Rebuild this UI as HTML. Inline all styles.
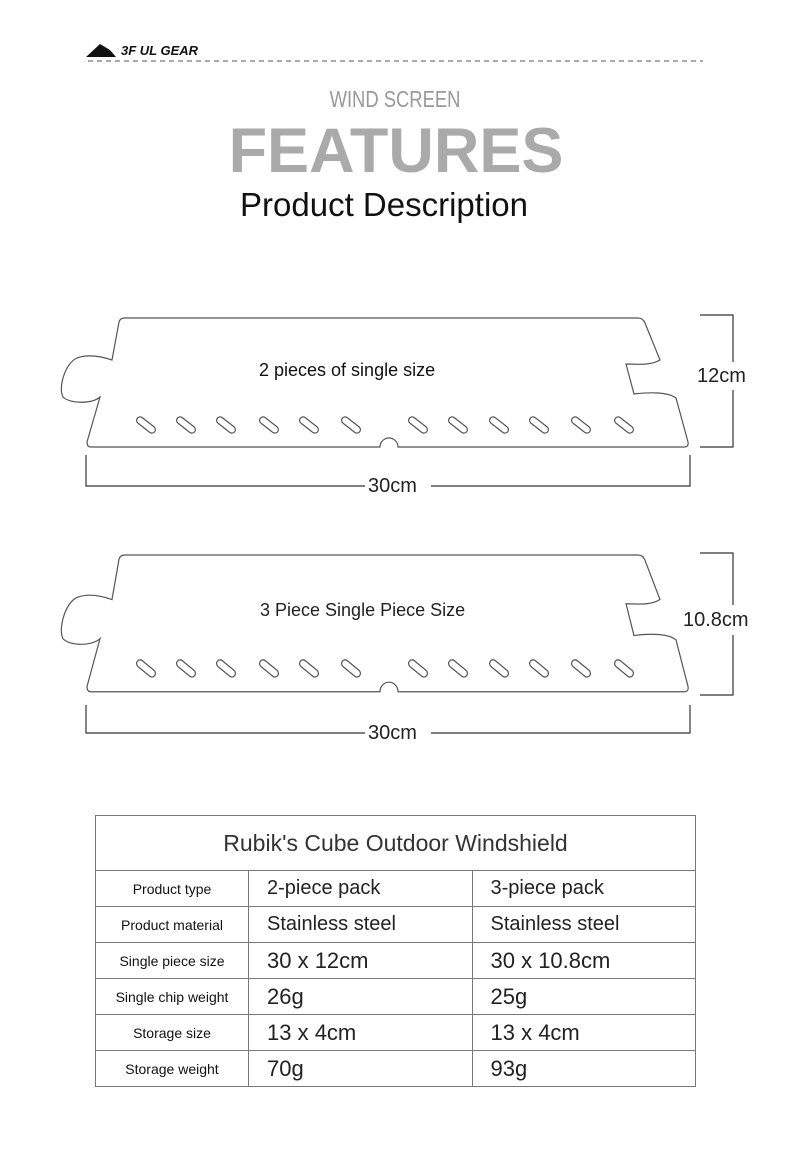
<!DOCTYPE html>
<html><head><meta charset="utf-8"><style>
body{margin:0;width:790px;height:1152px;background:#fff;position:relative;overflow:hidden;font-family:"Liberation Sans",sans-serif;}
.a{position:absolute;white-space:nowrap}
table{position:absolute;left:95px;top:815px;width:601px;border-collapse:collapse;}
td{border:1.5px solid #777;padding:0;height:35px;font-size:22px;color:#222}
td.l{font-size:14px;text-align:center;width:152px;color:#111}
td.v{padding-left:18px}
</style></head><body>
<svg class="a" style="left:0;top:0" width="790" height="1152">
<polygon points="86,57 100,44 110,50 116,57" fill="#111"/>
<line x1="88" y1="61" x2="703" y2="61" stroke="#777" stroke-width="1.2" stroke-dasharray="5,4"/>
<defs>
<g id="p">
<path d="M125,0 L638,0 Q643,0 645,5 L660,42 C650,48 636,46 626,46 L634,76 C650,74 668,74 676,80 L688,124 Q689,129 684,129 L398,129 A9,9 0 0 0 380,129 L91,129 Q87,129 87,124 L100,79 C92,86 70,86 63,79 C58,70 65,45 77,40 C88,36 100,38 112,42 L119,4 Q120,0 125,0 Z" fill="#fff" stroke="#555" stroke-width="1.2" vector-effect="non-scaling-stroke"/>
<g fill="none" stroke="#555" stroke-width="1.2" vector-effect="non-scaling-stroke">
<rect x="-11" y="-3.5" width="22" height="7" rx="3.5" transform="translate(146,107) rotate(38)"/>
<rect x="-11" y="-3.5" width="22" height="7" rx="3.5" transform="translate(186,107) rotate(38)"/>
<rect x="-11" y="-3.5" width="22" height="7" rx="3.5" transform="translate(226,107) rotate(38)"/>
<rect x="-11" y="-3.5" width="22" height="7" rx="3.5" transform="translate(269,107) rotate(38)"/>
<rect x="-11" y="-3.5" width="22" height="7" rx="3.5" transform="translate(309,107) rotate(38)"/>
<rect x="-11" y="-3.5" width="22" height="7" rx="3.5" transform="translate(351,107) rotate(38)"/>
<rect x="-11" y="-3.5" width="22" height="7" rx="3.5" transform="translate(418,107) rotate(38)"/>
<rect x="-11" y="-3.5" width="22" height="7" rx="3.5" transform="translate(458,107) rotate(38)"/>
<rect x="-11" y="-3.5" width="22" height="7" rx="3.5" transform="translate(499,107) rotate(38)"/>
<rect x="-11" y="-3.5" width="22" height="7" rx="3.5" transform="translate(539,107) rotate(38)"/>
<rect x="-11" y="-3.5" width="22" height="7" rx="3.5" transform="translate(581,107) rotate(38)"/>
<rect x="-11" y="-3.5" width="22" height="7" rx="3.5" transform="translate(624,107) rotate(38)"/>
</g></g></defs>
<use href="#p" transform="translate(0,318)"/>
<use href="#p" transform="translate(0,555) scale(1,1.06)"/>
<g fill="none" stroke="#333" stroke-width="1.2">
<polyline points="700,315 733,315 733,447 700,447"/>
<polyline points="86,455 86,486 690,486 690,455"/>
<polyline points="700,553 733,553 733,695 700,695"/>
<polyline points="86,705 86,733 690,733 690,705"/>
</g>
<rect x="365" y="474" width="66" height="24" fill="#fff"/>
<rect x="365" y="721" width="66" height="24" fill="#fff"/>
<rect x="696" y="362" width="62" height="28" fill="#fff"/>
<rect x="682" y="605" width="78" height="30" fill="#fff"/>
</svg>
<div class="a" style="left:121px;top:43px;font-size:13px;font-weight:bold;font-style:italic;color:#111">3F UL GEAR</div>
<div class="a" style="left:0;width:790px;text-align:center;top:86px;font-size:23px;color:#999;transform:scaleX(.8)">WIND SCREEN</div>
<div class="a" style="left:0;width:792px;text-align:center;top:115px;font-size:63px;font-weight:bold;color:#aaa">FEATURES</div>
<div class="a" style="left:0;width:768px;text-align:center;top:186px;font-size:33px;color:#111">Product Description</div>
<div class="a" style="left:259px;top:360px;font-size:18px;color:#111">2 pieces of single size</div>
<div class="a" style="left:260px;top:600px;font-size:18px;color:#222">3 Piece Single Piece Size</div>
<div class="a" style="left:697px;top:365px;font-size:20px;color:#222">12cm</div>
<div class="a" style="left:683px;top:609px;font-size:20px;color:#222">10.8cm</div>
<div class="a" style="left:368px;top:475px;font-size:20px;color:#222">30cm</div>
<div class="a" style="left:368px;top:722px;font-size:20px;color:#222">30cm</div>
<table>
<tr><td colspan="3" style="height:54px;text-align:center;font-size:23px;color:#333">Rubik's Cube Outdoor Windshield</td></tr>
<tr><td class="l">Product type</td><td class="v" style="font-size:20px">2-piece pack</td><td class="v" style="font-size:20px">3-piece pack</td></tr>
<tr><td class="l">Product material</td><td class="v" style="font-size:20px">Stainless steel</td><td class="v" style="font-size:20px">Stainless steel</td></tr>
<tr><td class="l">Single piece size</td><td class="v">30 x 12cm</td><td class="v">30 x 10.8cm</td></tr>
<tr><td class="l">Single chip weight</td><td class="v">26g</td><td class="v">25g</td></tr>
<tr><td class="l">Storage size</td><td class="v">13 x 4cm</td><td class="v">13 x 4cm</td></tr>
<tr><td class="l">Storage weight</td><td class="v">70g</td><td class="v">93g</td></tr>
</table>
</body></html>
